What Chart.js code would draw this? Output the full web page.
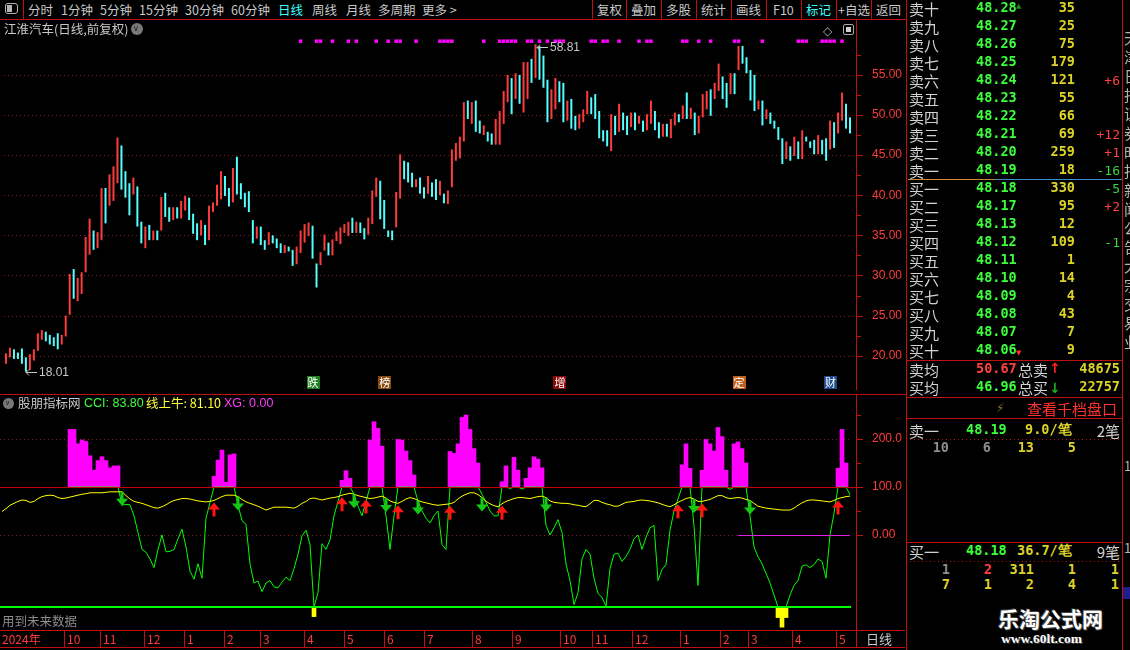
<!DOCTYPE html>
<html>
<head>
<meta charset="utf-8">
<script src="https://cdn.jsdelivr.net/npm/chart.js@4.4.1/dist/chart.umd.min.js"></script>
<style>
  html, body { margin: 0; padding: 0; background: #000; }
  body { width: 1130px; height: 650px; position: relative; overflow: hidden; font-family: "Noto Sans CJK SC", sans-serif; }
  canvas { position: absolute; left: 0; }
  #main { top: 20px; }
  #ind { top: 395px; }
  .t { position: absolute; white-space: nowrap; line-height: 1; transform: translateY(-50%); }
  .l { position: absolute; }
  .num { font-family: "DejaVu Sans Mono", monospace; font-weight: bold; }
</style>
</head>
<body>
<canvas id="main" width="905" height="374"></canvas>
<canvas id="ind" width="905" height="255"></canvas>
<script>
// one bar = two trading days
const highs = [20.3,21.0,20.8,20.4,20.9,19.8,20.2,20.8,22.8,23.2,
  23.0,22.6,22.3,22.8,22.6,25.0,30.2,30.8,29.7,30.4,
  34.8,37.1,35.6,35.4,40.9,40.9,42.6,43.6,47.2,46.2,
  43.0,41.5,42.2,41.1,36.7,36.1,36.3,35.6,35.6,39.8,
  40.3,38.5,38.5,38.5,39.3,39.9,39.7,37.7,36.5,36.9,
  36.3,38.7,39.1,41.3,43.0,42.4,40.9,43.4,44.8,41.5,
  40.3,40.5,36.9,36.1,36.1,34.4,35.4,35.0,34.6,34.0,
  33.8,33.6,33.2,33.6,35.6,36.4,36.6,36.2,31.5,32.9,
  35.1,34.1,34.5,35.5,36.0,36.4,36.7,37.2,36.7,36.6,
  35.9,37.2,40.6,42.2,41.8,39.4,35.6,35.6,40.4,45.1,
  44.3,44.1,42.8,42.0,42.2,41.0,42.4,41.6,42.0,41.8,
  40.2,40.6,45.7,46.5,47.3,51.6,51.8,51.6,51.8,49.3,
  48.7,47.9,47.7,49.5,50.5,53.0,55.0,54.6,55.2,55.0,
  56.6,56.6,57.0,58.81,58.6,57.4,54.4,53.2,54.6,54.2,
  54.0,51.8,52.0,49.9,50.1,50.7,53.0,52.2,52.6,50.5,
  48.1,48.1,50.1,49.9,51.4,50.3,49.9,50.3,50.3,49.9,
  49.3,50.1,51.8,50.5,49.1,48.9,48.9,49.5,50.3,50.1,
  51.2,52.8,50.9,50.3,49.9,52.6,53.0,53.2,54.0,56.4,
  54.8,54.0,55.2,55.2,58.6,58.6,57.2,55.6,55.0,51.8,
  51.8,50.7,50.3,49.3,48.5,47.1,46.7,46.1,47.3,46.7,
  48.1,47.3,46.7,46.9,47.5,46.9,47.1,49.3,49.1,50.3,
  52.8,51.4,49.7];
const lows = [19.0,19.8,19.6,19.6,19.0,18.01,18.2,19.4,20.6,22.0,
  21.8,21.4,21.2,20.8,21.4,22.4,25.1,27.1,26.8,27.7,
  30.4,32.6,33.2,33.4,34.4,36.5,38.7,39.3,41.5,40.7,
  39.7,37.5,40.1,36.1,34.0,33.4,34.4,34.4,34.4,35.6,
  37.3,36.7,36.9,37.1,37.1,38.1,36.9,35.2,34.4,35.0,
  33.8,34.4,37.9,38.7,39.5,39.9,38.6,39.1,40.1,39.5,
  38.5,37.9,34.0,34.6,33.8,33.2,33.8,34.0,33.4,32.8,
  32.8,33.0,31.2,31.4,32.8,34.1,34.9,32.1,28.5,31.3,
  33.1,32.5,32.5,34.3,33.9,35.3,34.9,35.3,35.3,35.3,
  34.5,35.1,36.4,39.8,37.0,35.8,34.8,34.4,36.0,39.6,
  42.0,41.6,41.0,41.0,40.2,39.6,40.2,39.8,39.4,40.0,
  39.0,38.9,41.0,44.3,44.6,46.7,49.5,48.9,47.9,47.7,
  47.5,46.7,46.3,46.3,46.3,48.9,51.6,50.1,52.0,51.4,
  50.3,52.0,54.0,54.6,54.4,53.4,49.1,49.5,50.7,51.6,
  49.1,49.3,48.3,48.1,48.3,49.1,50.1,50.1,49.5,47.1,
  46.7,46.1,45.5,47.5,47.9,48.1,47.5,48.5,48.1,48.9,
  47.9,48.1,48.9,48.1,47.1,47.3,47.3,47.1,48.7,49.1,
  49.5,49.5,49.5,47.5,47.7,49.7,50.7,49.9,52.0,53.0,
  52.0,50.9,52.6,52.6,55.6,56.4,55.2,51.8,50.5,50.7,
  48.7,49.5,48.9,48.3,46.9,43.9,44.5,44.3,44.9,44.5,
  44.5,46.7,45.9,45.1,45.1,45.1,44.3,45.7,45.9,47.7,
  49.3,48.3,47.7];
const closes = [20.2,20.4,20.0,19.8,19.4,18.6,19.8,20.6,22.4,22.6,
  22.2,21.8,21.6,21.2,22.2,24.8,29.6,28.0,29.2,30.0,
  34.2,34.8,33.6,34.8,39.8,38.0,41.6,42.8,45.2,42.0,
  40.4,38.8,41.2,36.6,34.6,35.4,35.0,35.2,35.0,38.8,
  38.0,37.6,37.8,37.6,38.6,39.2,37.4,35.6,35.2,35.8,
  34.2,38.2,38.4,40.4,41.8,40.6,39.2,42.6,41.2,40.0,
  39.2,38.2,35.2,35.4,34.4,33.8,34.6,34.4,33.8,33.2,
  33.4,33.2,31.6,32.6,35.2,35.6,35.6,32.6,29.0,32.4,
  34.8,33.2,34.0,35.0,35.6,35.8,36.4,35.6,36.2,35.6,
  35.2,36.8,40.2,40.8,37.6,36.2,35.2,35.0,39.8,44.0,
  42.6,42.2,41.4,41.6,40.6,40.2,41.8,40.4,40.0,40.6,
  39.4,40.2,45.2,45.8,46.6,50.8,50.4,50.8,48.4,48.0,
  48.2,47.2,46.8,48.6,49.8,52.4,54.0,51.0,54.4,52.0,
  54.8,55.8,55.0,58.0,56.0,54.0,49.6,52.4,53.6,52.2,
  49.8,50.6,48.8,48.6,49.6,49.8,52.4,50.8,49.8,47.6,
  47.2,46.4,49.2,48.2,50.8,48.8,48.2,49.8,48.6,49.2,
  48.4,49.4,50.2,48.8,47.6,48.2,47.8,48.8,49.8,49.6,
  50.4,50.0,50.2,48.0,49.6,51.8,52.4,50.6,53.4,55.2,
  53.0,52.8,54.4,53.4,57.6,57.4,55.8,52.4,51.0,51.4,
  49.6,50.0,49.2,48.6,47.2,44.4,45.8,44.8,46.6,45.2,
  47.6,46.9,46.2,45.6,46.8,45.6,44.8,48.8,47.0,49.6,
  51.2,48.8,48.2];
const priceTicks = [20, 25, 30, 35, 40, 45, 50, 55];
const signalDots = [74,78,79,82,86,88,93,96,98,99,103,109,110,111,112,120,124,125,126,127,128,
  131,132,134,136,138,139,140,147,148,150,151,154,159,161,162,170,171,174,177,183,184,190,
  199,200,201,205,206,207,208,210];
const dotLevel = 59.2;
const eventText = ['跌', '榜', '增', '定', '财'];
const eventBars = [77, 95, 139, 184, 207];
const eventColors = ['#1e7d1e', '#8a4a14', '#8b0a0a', '#c0601e', '#1e4a8c'];
const lowBar = 5, lowValue = 18.01;
const highBar = 133, highValue = 58.81;

// CCI (股朋指标网) and 线上牛
const cci = [null,null,null,null,null,null,null,null,null,null,null,null,null,null,null,null,null,
  220,220,190,198,195,165,135,155,163,155,140,144,144,
  62,64,63,40,5,-30,-36,-50,-68,-30,
  0,-35,-34,-30,-8,12,-25,-75,-92,-60,
  -90,35,68,122,156,177,110,167,169,62,
  30,22,-60,-100,-96,-118,-100,-95,-108,-110,
  -98,-88,-95,-70,-40,-2,10,-20,-170,-120,
  -18,-30,-10,40,70,114,134,118,85,60,
  40,70,198,236,222,185,40,-30,40,199,
  198,175,155,125,70,50,35,25,40,50,
  -20,-30,174,170,190,245,250,220,180,150,
  85,68,50,40,40,111,144,97,162,135,
  96,118,140,163,158,140,20,0,15,32,
  5,-60,-95,-145,-120,-50,-30,-40,-90,-122,
  -130,-149,-70,-40,-38,-55,-45,-30,-8,0,
  -30,-5,15,20,-95,-72,-62,10,50,75,
  146,190,139,20,-105,135,199,190,175,224,
  205,135,95,190,194,180,150,40,-25,-45,
  -60,-80,-100,-125,-172,-192,-172,-125,-105,-95,
  -65,-62,-68,-62,-50,-55,-90,0,45,139,
  220,150,83.8];
const bull = [49,55,62,66,70,73,72,68,70,76,
  80,82,83,82,78,76,77,79,81,83,
  85,86,88,88,88,88,89,90,90,90,
  90,82,75,70,68,66,63,60,57,56,
  59,63,68,72,74,76,76,75,73,71,
  70,69,70,72,76,80,83,83,83,80,
  74,69,66,63,60,56,52,55,58,58,
  58,58,57,56,60,66,70,76,77,75,
  73,75,77,78,80,83,85,87,85,82,
  80,78,76,77,79,81,77,71,68,66,
  70,75,78,76,72,69,67,65,63,62,
  63,64,65,68,75,81,85,88,88,84,
  78,70,65,61,59,65,70,73,76,78,
  78,77,76,78,80,81,78,71,68,67,
  66,66,65,63,62,60,59,65,72,72,
  68,65,63,60,60,64,68,69,70,72,
  73,72,71,69,67,64,61,59,63,68,
  72,76,78,75,70,70,72,74,78,82,
  82,78,76,77,78,77,74,72,66,60,
  58,56,55,54,53,52,52,52,56,62,
  67,71,73,73,72,71,70,69,72,76,
  78,80,81.1];
const upArrows = [53, 85, 91, 99, 112, 125, 169, 175, 209];
const downArrows = [30, 59, 88, 96, 104, 120, 136, 173, 187];
const cciTicks = [0, 100, 200];
const floorLevel = -150, capLevel = 100;
const zeroMarkFrom = 184, zeroMarkTo = 212;

// date axis
const monthLabels = ['2024年','10','11','12','1','2','3','4','5','6','7','8','9','10','11','12','1','2','3','4','5'];
const monthStarts = [16,25,36,46,56,65,76,86,96,106,118,128,140,148,158,170,180,187,198,209];

const UP = '#ff3c3c', DOWN = '#54ffff', AXIS = '#c01010', GRID = '#8a1c1c', AXTXT = '#ff3c3c';
const bars = highs.map((_, i) => i);
const barColors = closes.map((c, i) => (i === 0 || c >= closes[i - 1]) ? UP : DOWN);

function hLine(ctx, x1, x2, y, color, width, dash) {
  ctx.save();
  ctx.strokeStyle = color; ctx.lineWidth = width || 1;
  if (dash) ctx.setLineDash(dash);
  const py = (width || 1) % 2 ? Math.round(y) + 0.5 : Math.round(y);
  ctx.beginPath(); ctx.moveTo(x1, py); ctx.lineTo(x2, py); ctx.stroke();
  ctx.restore();
}

function vLine(ctx, x, y1, y2, color) {
  ctx.save();
  ctx.strokeStyle = color; ctx.lineWidth = 1;
  ctx.beginPath(); ctx.moveTo(Math.round(x) + 0.5, y1); ctx.lineTo(Math.round(x) + 0.5, y2); ctx.stroke();
  ctx.restore();
}

function rightAxis(ctx, chart, ticks, half, fmt) {
  const y = chart.scales.y;
  vLine(ctx, 856, 0, chart.chartArea.bottom, AXIS);
  ctx.save();
  ctx.font = '12px "Liberation Sans"';
  ctx.textBaseline = 'middle';
  ticks.forEach(v => {
    const py = y.getPixelForValue(v);
    hLine(ctx, 857, 863, py, AXIS);
    hLine(ctx, 857, 861, y.getPixelForValue(v + half), AXIS);
    ctx.fillStyle = AXTXT;
    ctx.fillText(fmt(v), 872, py);
  });
  ctx.restore();
}

function extremeLabel(ctx, px, py, value) {
  ctx.strokeStyle = '#c8c8c8';
  ctx.lineWidth = 1;
  ctx.beginPath();
  ctx.moveTo(px + 1, py + 0.5); ctx.lineTo(px + 12, py + 0.5);
  ctx.moveTo(px + 4, py - 2.5); ctx.lineTo(px + 1, py + 0.5); ctx.lineTo(px + 4, py + 3.5);
  ctx.stroke();
  ctx.fillStyle = '#c8c8c8';
  ctx.fillText(value.toFixed(2), px + 14, py + 1);
}

const mainDecor = {
  id: 'mainDecor',
  beforeDatasetsDraw(chart) {
    const { ctx, chartArea: a, scales: { y } } = chart;
    priceTicks.forEach(v => hLine(ctx, a.left, a.right, y.getPixelForValue(v), GRID, 1, [1, 3]));
  },
  afterDraw(chart) {
    const { ctx, chartArea: a, scales: { x, y } } = chart;
    rightAxis(ctx, chart, priceTicks, 2.5, v => v.toFixed(2));
    ctx.save();
    ctx.font = '12px "Liberation Sans"';
    ctx.textBaseline = 'middle';
    extremeLabel(ctx, Math.round(x.getPixelForValue(lowBar)) - 1, Math.round(y.getPixelForValue(lowValue)), lowValue);
    extremeLabel(ctx, Math.round(x.getPixelForValue(highBar)) + 1, Math.round(y.getPixelForValue(highValue)) + 3, highValue);
    ctx.font = '11px "Noto Sans CJK SC"';
    ctx.textAlign = 'center';
    eventText.forEach((s, k) => {
      const cx = x.getPixelForValue(eventBars[k]);
      ctx.fillStyle = eventColors[k];
      ctx.fillRect(Math.round(cx) - 6, a.bottom - 14, 13, 13);
      ctx.fillStyle = '#ffffff';
      ctx.fillText(s, cx + 0.5, a.bottom - 7.5);
    });
    ctx.restore();
  }
};

new Chart(document.getElementById('main'), {
  type: 'bar',
  data: {
    labels: bars,
    datasets: [
      {
        data: highs.map((h, i) => [lows[i], h]),
        backgroundColor: barColors,
        borderWidth: 0,
        barPercentage: 0.5,
        categoryPercentage: 1,
        grouped: false,
        order: 1
      },
      {
        type: 'line',
        data: bars.map(i => signalDots.includes(i) ? dotLevel : null),
        showLine: false,
        pointStyle: 'rect',
        pointRadius: 2.5,
        pointBackgroundColor: '#ff00ff',
        pointBorderWidth: 0,
        order: 0
      }
    ]
  },
  options: {
    responsive: false,
    animation: false,
    devicePixelRatio: 1,
    layout: { padding: { left: 0, right: 53, top: 0, bottom: 0 } },
    plugins: { legend: { display: false }, tooltip: { enabled: false } },
    scales: {
      x: { display: false, offset: true },
      y: { display: false, min: 15.73, max: 61.34 }
    }
  },
  plugins: [mainDecor]
});

function arrow(ctx, x, y, up, color) {
  ctx.save();
  ctx.fillStyle = color;
  ctx.beginPath();
  if (up) {
    ctx.moveTo(x, y); ctx.lineTo(x + 6, y + 7); ctx.lineTo(x + 1.5, y + 7); ctx.lineTo(x + 1.5, y + 14);
    ctx.lineTo(x - 1.5, y + 14); ctx.lineTo(x - 1.5, y + 7); ctx.lineTo(x - 6, y + 7);
  } else {
    ctx.moveTo(x - 1.5, y); ctx.lineTo(x + 1.5, y); ctx.lineTo(x + 1.5, y + 7); ctx.lineTo(x + 6, y + 7);
    ctx.lineTo(x, y + 14); ctx.lineTo(x - 6, y + 7); ctx.lineTo(x - 1.5, y + 7);
  }
  ctx.closePath();
  ctx.fill();
  ctx.restore();
}

const indDecor = {
  id: 'indDecor',
  beforeDatasetsDraw(chart) {
    const { ctx, chartArea: a, scales: { y } } = chart;
    [0, 200].forEach(v => hLine(ctx, a.left, a.right, y.getPixelForValue(v), GRID, 1, [1, 3]));
  },
  afterDatasetsDraw(chart) {
    const { ctx, chartArea: a, scales: { x, y } } = chart;
    hLine(ctx, a.left, 856, y.getPixelForValue(capLevel), '#c80000');
    hLine(ctx, a.left, a.right - 1, y.getPixelForValue(floorLevel), '#00ff00', 2);
    hLine(ctx, x.getPixelForValue(zeroMarkFrom), x.getPixelForValue(zeroMarkTo), y.getPixelForValue(0), '#e020e0');
    upArrows.forEach(i => arrow(ctx, x.getPixelForValue(i), y.getPixelForValue(bull[i]) + 2, true, '#ff1414'));
    downArrows.forEach(i => arrow(ctx, x.getPixelForValue(i), y.getPixelForValue(bull[i]), false, '#14c814'));
  },
  afterDraw(chart) {
    const { ctx, chartArea: a, scales: { x } } = chart;
    rightAxis(ctx, chart, cciTicks, 50, v => v === 0 ? '0.00' : v.toFixed(1));
    const y0 = a.bottom;
    hLine(ctx, 0, 905, y0, AXIS);
    hLine(ctx, 0, 905, y0 + 17, AXIS);
    vLine(ctx, 856, y0, y0 + 17, AXIS);
    ctx.save();
    ctx.font = '12px "Noto Sans CJK SC"';
    ctx.textBaseline = 'middle';
    ctx.fillStyle = AXTXT;
    ctx.fillText(monthLabels[0], 2, y0 + 9);
    monthStarts.forEach((b, k) => {
      const sx = x.getPixelForValue(b) - 2;
      vLine(ctx, sx, y0, y0 + 17, AXIS);
      ctx.fillStyle = AXTXT;
      ctx.fillText(monthLabels[k + 1], sx + 3, y0 + 9);
    });
    ctx.fillStyle = '#c8c8c8';
    ctx.font = '13px "Noto Sans CJK SC"';
    ctx.fillText('日线', 866, y0 + 9);
    ctx.restore();
  }
};

new Chart(document.getElementById('ind'), {
  type: 'bar',
  data: {
    labels: bars,
    datasets: [
      {
        data: cci.map(v => v !== null && v > capLevel ? [capLevel, v] : null),
        backgroundColor: '#ff00ff', borderWidth: 0, barPercentage: 1, categoryPercentage: 1,
        grouped: false, order: 2
      },
      {
        data: cci.map(v => v !== null && v < floorLevel ? [floorLevel, v] : null),
        backgroundColor: '#ffff00', borderWidth: 0, barPercentage: 1, categoryPercentage: 1,
        grouped: false, order: 2
      },
      {
        type: 'line',
        data: cci.map(v => v === null ? null : Math.max(floorLevel, Math.min(capLevel, v))),
        borderColor: '#00ff00', borderWidth: 1, pointRadius: 0, tension: 0, order: 1
      },
      {
        type: 'line',
        data: bull,
        borderColor: '#ffff00', borderWidth: 1, pointRadius: 0, tension: 0, order: 0
      }
    ]
  },
  options: {
    responsive: false,
    animation: false,
    devicePixelRatio: 1,
    layout: { padding: { left: 0, right: 53, top: 0, bottom: 20 } },
    plugins: { legend: { display: false }, tooltip: { enabled: false } },
    scales: {
      x: { display: false, offset: true },
      y: { display: false, min: -197.9, max: 291.7 }
    }
  },
  plugins: [indDecor]
});

// ---------- surrounding panels (plain HTML text) ----------
function put(x, y, s, color, size, opt) {
  opt = opt || {};
  const d = document.createElement('div');
  d.className = 't' + (opt.num ? ' num' : '');
  d.textContent = s;
  d.style.top = y + 'px';
  if (opt.right) d.style.right = (1130 - x) + 'px'; else d.style.left = x + 'px';
  d.style.color = color;
  d.style.fontSize = size + 'px';
  if (opt.font) d.style.fontFamily = opt.font;
  if (opt.bold) d.style.fontWeight = 'bold';
  if (opt.css) d.style.cssText += opt.css;
  document.body.appendChild(d);
  return d;
}
function box(x, y, w, h, css) {
  const d = document.createElement('div');
  d.className = 'l';
  d.style.cssText = `left:${x}px;top:${y}px;width:${w}px;height:${h}px;` + (css || '');
  document.body.appendChild(d);
  return d;
}
const RED = '#c01010';
const dots = c => `background:repeating-linear-gradient(90deg, ${c} 0 1px, transparent 1px 4px);`;

// toolbar
box(0, 19, 906, 1, `background:${RED};`);
box(23, 0, 1, 19, `background:${RED};`);
box(5, 3, 13, 11, 'border:1.5px solid #b4b4b4;border-radius:3px;box-sizing:border-box;');
box(7, 5, 5, 7, 'background:#b4b4b4;');
const tabs = ['分时','1分钟','5分钟','15分钟','30分钟','60分钟','日线','周线','月线','多周期','更多 >'];
const tabsX = [28,61,100,139,185,231,278,312,346,378,422];
tabs.forEach((s, k) => put(tabsX[k], 10, s, s === '日线' ? '#3cffff' : '#c8c8c8', 12.5));
const tools = ['复权','叠加','多股','统计','画线','F10','标记','+自选','返回'];
const toolsX = [597,631,666,701,736,773,806,838,876];
const toolSep = [592,626,661,696,731,766,801,836,871];
tools.forEach((s, k) => put(toolsX[k], 10, s, s === '标记' ? '#3cffff' : '#c8c8c8', 12.5));
toolSep.forEach(x => box(x, 0, 1, 19, `background:${RED};`));

// chart titles
put(4, 29, '江淮汽车(日线,前复权)', '#c8c8c8', 12.5);
box(131, 23, 12, 12, 'border-radius:50%;background:#787878;');
put(133, 29, '∨', '#222', 8, { font: 'DejaVu Sans' });
put(823, 31, '◇', '#a8a8a8', 12, { font: 'DejaVu Sans' });
box(843, 24, 11, 11, 'border:1.5px solid #a8a8a8;border-radius:2px;box-sizing:border-box;');
box(846, 27, 5, 5, 'background:#d0d0d0;');
box(0, 394, 906, 1, `background:${RED};`);

box(3, 398, 11, 11, 'border-radius:50%;background:#787878;');
put(5, 403, '∨', '#222', 7, { font: 'DejaVu Sans' });
put(18, 403, '股朋指标网', '#c8c8c8', 12.5);
put(84, 403, 'CCI: ' + cci[cci.length - 1].toFixed(2), '#3cff3c', 12.5, { font: 'Liberation Sans' });
put(146, 403, '线上牛: ' + bull[bull.length - 1].toFixed(2), '#ffff3c', 12.5);
put(224, 403, 'XG: 0.00', '#ff3cff', 12.5, { font: 'Liberation Sans' });
put(2, 621, '用到未来数据', '#8c8c8c', 12.5);

// order book panel
box(906, 0, 1, 650, `background:${RED};`);
box(1122, 0, 1, 650, `background:${RED};`);
const askNames = ['卖十','卖九','卖八','卖七','卖六','卖五','卖四','卖三','卖二','卖一'];
const askPrices = ['48.28','48.27','48.26','48.25','48.24','48.23','48.22','48.21','48.20','48.19'];
const askVols = ['35','25','75','179','121','55','66','69','259','18'];
const askChg = ['','','','','+6','','','+12','+1','-16'];
const bidNames = ['买一','买二','买三','买四','买五','买六','买七','买八','买九','买十'];
const bidPrices = ['48.18','48.17','48.13','48.12','48.11','48.10','48.09','48.08','48.07','48.06'];
const bidVols = ['330','95','12','109','1','14','4','43','7','9'];
const bidChg = ['-5','+2','','-1','','','','','',''];
const GREEN = '#3cff3c', YEL = '#dcd228', LABEL = '#d2d2d2';
function bookRow(y, name, price, vol, chg) {
  put(909, y, name, LABEL, 15);
  put(976, y, price, GREEN, 13.5, { num: true });
  put(1075, y, vol, YEL, 13.5, { num: true, right: true });
  if (chg) put(1120, y, chg, chg[0] === '+' ? '#ff4040' : '#3cd23c', 13, { num: true, right: true, css: 'font-weight:normal;' });
}
askNames.forEach((s, k) => bookRow(8 + 18 * k, s, askPrices[k], askVols[k], askChg[k]));
bidNames.forEach((s, k) => bookRow(188 + 18 * k, s, bidPrices[k], bidVols[k], bidChg[k]));
put(1016, 6, '▲', '#1e8c1e', 7, { font: 'DejaVu Sans' });
put(1016, 353, '▼', '#ff3030', 7, { font: 'DejaVu Sans' });
box(908, 179, 87, 1, 'background:#c88c3c;');
box(995, 179, 127, 1, 'background:#3c8cc8;');

box(907, 360, 215, 1, `background:${RED};`);
put(909, 369, '卖均', LABEL, 15);
put(976, 369, '50.67', '#ff4040', 13.5, { num: true });
put(1018, 369, '总卖', LABEL, 15);
put(1049, 368, '↑', '#ff2020', 14, { font: 'DejaVu Sans', bold: true });
put(1120, 369, '48675', YEL, 13.5, { num: true, right: true });
put(909, 387, '买均', LABEL, 15);
put(976, 387, '46.96', GREEN, 13.5, { num: true });
put(1018, 387, '总买', LABEL, 15);
put(1049, 388, '↓', '#20b020', 14, { font: 'DejaVu Sans', bold: true });
put(1120, 387, '22757', YEL, 13.5, { num: true, right: true });
box(907, 397, 215, 1, `background:${RED};`);
put(996, 408, '⚡', '#8c7a28', 12, { font: 'DejaVu Sans' });
put(1027, 408, '查看千档盘口', '#ff3030', 15);
box(907, 418, 215, 1, `background:${RED};`);

put(909, 430, '卖一', LABEL, 15);
put(966, 430, '48.19', GREEN, 13.5, { num: true });
put(1025, 430, '9.0/笔', YEL, 13.5, { num: true });
put(1120, 430, '2笔', LABEL, 15, { right: true });
box(910, 439, 210, 1, dots('#b41414'));
const askQueue = ['10', '6', '13', '5'];
const askQueueX = [949, 991, 1034, 1076];
const askQueueC = ['#8c8c8c', '#8c8c8c', YEL, YEL];
askQueue.forEach((s, k) => put(askQueueX[k], 448, s, askQueueC[k], 13.5, { num: true, right: true }));

box(907, 542, 215, 1, `background:${RED};`);
put(909, 551, '买一', LABEL, 15);
put(966, 551, '48.18', GREEN, 13.5, { num: true });
put(1017, 551, '36.7/笔', YEL, 13.5, { num: true });
put(1120, 551, '9笔', LABEL, 15, { right: true });
box(910, 561, 210, 1, dots('#b41414'));
const bidQueue1 = ['1', '2', '311', '1', '1'];
const bidQueue2 = ['7', '1', '2', '4', '1'];
const bidQueueX = [950, 992, 1034, 1076, 1119];
const bidQueueC = ['#8c8c8c', '#ff4040', YEL, YEL, YEL];
bidQueue1.forEach((s, k) => put(bidQueueX[k], 570, s, bidQueueC[k], 13.5, { num: true, right: true }));
bidQueue2.forEach((s, k) => put(bidQueueX[k], 585, s, YEL, 13.5, { num: true, right: true }));

put(998, 618, '乐淘公式网', '#ffffff', 21, { bold: true, css: 'text-shadow:1px 1px 0 #444,-1px -1px 0 #444;' });
put(1001, 639, 'www.60lt.com', '#ffffff', 13.5, { bold: true, font: '"Liberation Serif", serif', css: 'text-shadow:1px 1px 0 #444;' });

// clipped neighbouring column at the far right
const sideChars = ['天','津','日','报','证','券','时','报','新','闻','公','告','大','宗','交','易','业'];
sideChars.forEach((s, k) => put(1124, 37 + 19 * k, s, '#b4b4b4', 15));
put(1124, 465, '1', '#b4b4b4', 13);
put(1124, 547, '1', '#b4b4b4', 13);
box(1123, 587, 7, 12, 'background:#1e1e8c;');
</script>
</body>
</html>
